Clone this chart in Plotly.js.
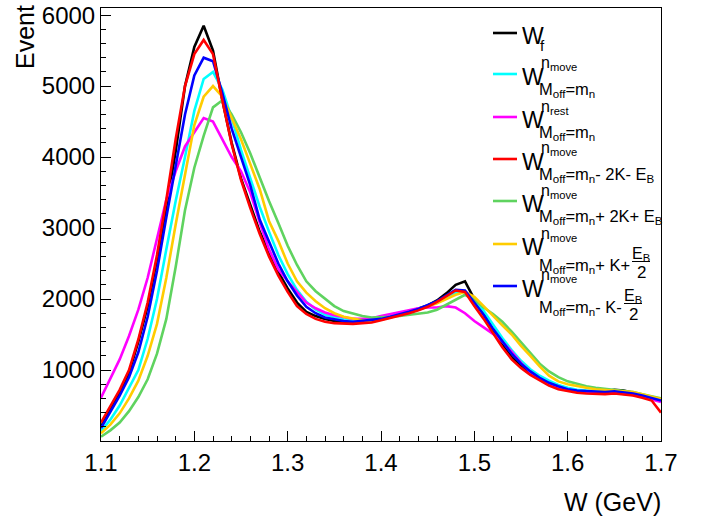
<!DOCTYPE html>
<html><head><meta charset="utf-8">
<script src="https://cdn.plot.ly/plotly-3.0.1.min.js"></script>
<style>html,body{margin:0;padding:0;background:#fff}#chart{width:704px;height:521px}</style>
</head><body><div id="chart"></div>
<script>
// bin centres, W (GeV)
const wGeV = [1.10,1.11,1.12,1.13,1.14,1.15,1.16,1.17,1.18,1.19,
              1.20,1.21,1.22,1.23,1.24,1.25,1.26,1.27,1.28,1.29,
              1.30,1.31,1.32,1.33,1.34,1.35,1.36,1.37,1.38,1.39,
              1.40,1.41,1.42,1.43,1.44,1.45,1.46,1.47,1.48,1.49,
              1.50,1.51,1.52,1.53,1.54,1.55,1.56,1.57,1.58,1.59,
              1.60,1.61,1.62,1.63,1.64,1.65,1.66,1.67,1.68,1.69,1.70];
// W_f (black)
const wF = [200,430,680,960,1400,1900,2560,3300,4080,5000,
            5550,5850,5500,4800,4200,3700,3320,2950,2650,2380,
            2150,1950,1820,1760,1720,1690,1680,1680,1690,1700,
            1720,1750,1780,1820,1860,1910,1980,2080,2200,2250,
            2000,1780,1560,1350,1180,1060,960,880,810,760,
            730,710,700,700,700,720,710,680,650,620,580];
// n_move, M_off = m_n (cyan)
const wMoveMn = [140,300,500,740,1000,1440,2000,2700,3380,4000,
                 4650,5100,5200,4950,4550,4100,3700,3300,2950,2620,
                 2350,2130,1960,1850,1780,1740,1710,1690,1690,1700,
                 1720,1750,1780,1820,1860,1900,1950,2020,2080,2100,
                 1990,1830,1640,1450,1280,1130,1010,920,850,790,
                 750,720,710,700,700,710,700,680,650,620,580];
// n_rest, M_off = m_n (magenta)
const wRestMn = [610,880,1150,1480,1850,2300,2850,3400,3800,4150,
                 4350,4550,4500,4250,4000,3800,3500,3080,2700,2420,
                 2250,2100,1950,1870,1810,1770,1740,1720,1720,1730,
                 1760,1790,1820,1850,1870,1880,1880,1900,1880,1800,
                 1690,1600,1510,1400,1260,1100,970,880,810,760,
                 720,700,690,680,680,680,670,650,620,590,550];
// n_move, M_off = m_n - 2K - E_B (red)
const wMoveM2K = [260,480,720,1000,1430,1950,2620,3400,4250,5000,
                  5450,5650,5450,4800,4180,3680,3280,2920,2600,2330,
                  2100,1900,1790,1720,1680,1660,1650,1650,1660,1670,
                  1700,1730,1760,1800,1840,1890,1960,2040,2120,2100,
                  1900,1720,1520,1320,1150,1030,930,850,780,730,
                  700,680,670,660,660,670,660,640,610,570,400];
// n_move, M_off = m_n + 2K + E_B (green)
const wMoveP2K = [60,150,260,420,620,870,1230,1720,2450,3250,
                  3850,4300,4700,4800,4600,4350,4050,3700,3380,3070,
                  2750,2480,2250,2110,2000,1900,1830,1790,1760,1740,
                  1740,1750,1760,1780,1800,1810,1850,1920,1990,2060,
                  1990,1880,1790,1680,1540,1390,1230,1090,980,900,
                  840,800,770,750,735,725,715,690,660,630,600];
// n_move, M_off = m_n + K + E_B/2 (yellow)
const wMovePK = [110,230,390,600,850,1200,1650,2300,3050,3750,
                 4450,4850,5000,4850,4550,4250,3900,3550,3100,2820,
                 2500,2250,2090,1970,1870,1800,1750,1720,1700,1700,
                 1710,1740,1770,1810,1850,1890,1940,2000,2060,2100,
                 2030,1900,1760,1630,1500,1340,1200,1050,920,840,
                 800,770,750,730,720,720,710,690,660,630,590];
// n_move, M_off = m_n - K - E_B/2 (blue)
const wMoveMK = [180,400,640,900,1250,1750,2400,3150,3850,4600,
                 5150,5400,5350,4900,4400,4000,3600,3120,2800,2500,
                 2250,2050,1890,1800,1740,1710,1690,1680,1690,1700,
                 1720,1750,1780,1820,1860,1910,1970,2050,2130,2120,
                 1950,1780,1580,1400,1230,1090,980,890,820,770,
                 730,710,700,690,690,700,690,670,640,610,570];

const xTickVals = [1.1,1.2,1.3,1.4,1.5,1.6,1.7];
const xTickText = ['1.1','1.2','1.3','1.4','1.5','1.6','1.7'];
const yTickVals = [1000,2000,3000,4000,5000,6000];
const yTickText = ['1000','2000','3000','4000','5000','6000'];

const FONT = 'Liberation Sans, Arial, Helvetica, sans-serif';
const C = {black:'#000000', cyan:'#00ffff', magenta:'#ff00ff', red:'#ff0000',
           green:'#5fd35f', yellow:'#ffcc00', blue:'#0000ff'};

// frame in pixels
const FL = 101, FR = 661, FT = 8, FB = 441;
const px = x => (x - FL) / (FR - FL);
const py = y => (FB - y) / (FB - FT);

const order = [
  [wF, C.black], [wMoveMn, C.cyan], [wRestMn, C.magenta],
  [wMoveP2K, C.green], [wMovePK, C.yellow], [wMoveMK, C.blue], [wMoveM2K, C.red]
];
const traces = order.map(([y, c]) => ({
  x: wGeV, y: y, type: 'scatter', mode: 'lines',
  line: {color: c, width: 2.6, shape: 'linear'},
  hoverinfo: 'skip', showlegend: false
}));

// legend (drawn as text + line samples)
const entries = [
  {c: C.black,   L: 33,  f: true},
  {c: C.cyan,    L: 74,  sup: 'n<sub>move</sub>', sub: 'M<sub>off</sub>=m<sub>n</sub>'},
  {c: C.magenta, L: 117, sup: 'n<sub>rest</sub>', sub: 'M<sub>off</sub>=m<sub>n</sub>'},
  {c: C.red,     L: 159, sup: 'n<sub>move</sub>', sub: 'M<sub>off</sub>=m<sub>n</sub>- 2K- E<sub>B</sub>'},
  {c: C.green,   L: 201, sup: 'n<sub>move</sub>', sub: 'M<sub>off</sub>=m<sub>n</sub>+ 2K+ E<sub>B</sub>'},
  {c: C.yellow,  L: 244, sup: 'n<sub>move</sub>', sub: 'M<sub>off</sub>=m<sub>n</sub>+ K+', frac: 641},
  {c: C.blue,    L: 286, sup: 'n<sub>move</sub>', sub: 'M<sub>off</sub>=m<sub>n</sub>- K-', frac: 633}
];
const shapes = [];
const annotations = [];
function ann(text, x, y, size, xa, ya, extra) {
  annotations.push(Object.assign({
    text: text, xref: 'paper', yref: 'paper', x: px(x), y: py(y),
    xanchor: xa, yanchor: ya, showarrow: false, borderpad: 0,
    font: {family: FONT, size: size, color: '#000'}
  }, extra || {}));
}
entries.forEach(e => {
  shapes.push({type: 'line', xref: 'paper', yref: 'paper',
    x0: px(493), x1: px(517), y0: py(e.L), y1: py(e.L),
    line: {color: e.c, width: 2.6}});
  ann('W', 521, e.L + 3, 23, 'left', 'middle');
  if (e.f) {
    ann('f', 539, e.L + 12, 15, 'left', 'middle');
    return;
  }
  ann(e.sup, 540, e.L - 10, 16, 'left', 'middle');
  const subY = e.frac ? e.L + 22 : e.L + 16;
  ann(e.sub, 538, subY, 16.5, 'left', 'middle');
  if (e.frac) {
    ann('E<sub>B</sub>', e.frac, e.L + 10, 16, 'center', 'middle');
    shapes.push({type: 'line', xref: 'paper', yref: 'paper',
      x0: px(e.frac - 9), x1: px(e.frac + 9), y0: py(e.L + 17.5), y1: py(e.L + 17.5),
      line: {color: '#000', width: 1}});
    ann('2', e.frac, e.L + 28, 17, 'center', 'middle');
  }
});

// axis titles
ann('Event', 25, 4, 25, 'center', 'top', {textangle: -90});
ann('W (GeV)', 662, 502, 25, 'right', 'middle');

const layout = {
  width: 704, height: 521,
  margin: {l: FL, r: 704 - FR, t: FT, b: 521 - FB, pad: 0},
  paper_bgcolor: '#fff', plot_bgcolor: '#fff',
  font: {family: FONT, size: 24, color: '#000'},
  showlegend: false,
  xaxis: {
    range: [1.1, 1.7], tickvals: xTickVals, ticktext: xTickText,
    ticks: 'inside', ticklen: 10, tickwidth: 1, tickcolor: '#000',
    minor: {dtick: 0.02, tick0: 1.1, ticks: 'inside', ticklen: 5, tickcolor: '#000', tickwidth: 1},
    showline: true, linecolor: '#000', linewidth: 1, mirror: true,
    showgrid: false, zeroline: false,
    tickfont: {family: FONT, size: 24, color: '#000'}
  },
  yaxis: {
    range: [0, 6100], tickvals: yTickVals, ticktext: yTickText,
    ticks: 'inside', ticklen: 10, tickwidth: 1, tickcolor: '#000',
    minor: {dtick: 200, tick0: 0, ticks: 'inside', ticklen: 5, tickcolor: '#000', tickwidth: 1},
    showline: true, linecolor: '#000', linewidth: 1, mirror: true,
    showgrid: false, zeroline: false,
    tickfont: {family: FONT, size: 24, color: '#000'}
  },
  shapes: shapes,
  annotations: annotations
};
Plotly.newPlot('chart', traces, layout, {staticPlot: true, displayModeBar: false});
</script>
</body></html>
